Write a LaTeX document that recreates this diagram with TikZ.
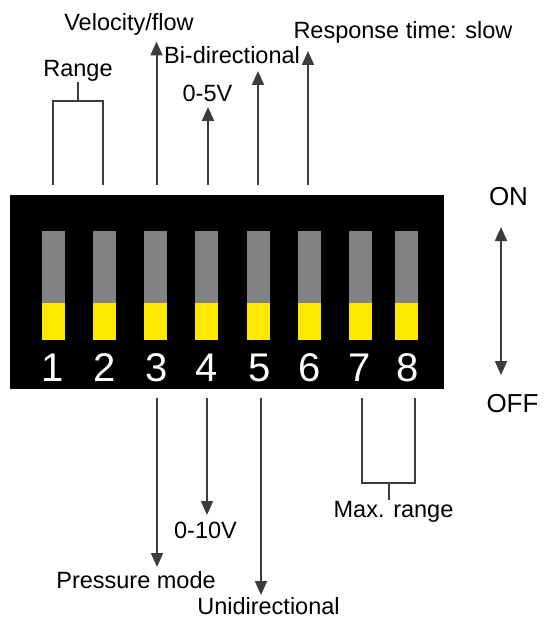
\documentclass[tikz,border=0pt]{standalone}
\usepackage{fontspec}
\setmainfont{Liberation Sans}
\usetikzlibrary{arrows.meta}
\definecolor{swgray}{HTML}{828282}
\definecolor{swyellow}{HTML}{FFE900}
\definecolor{arrowgray}{HTML}{3C3C3C}
\begin{document}
\begin{tikzpicture}[x=1pt,y=-1pt,
  lbl/.style={font=\fontsize{23.5}{24}\selectfont, inner sep=0pt, anchor=base},
  onoff/.style={font=\fontsize{26}{26}\selectfont, inner sep=0pt, anchor=base},
  num/.style={font=\fontsize{40}{40}\selectfont, text=white, inner sep=0pt, anchor=base},
  conn/.style={line width=2pt, draw=arrowgray},
  arr/.style={conn, -{Triangle[length=14pt,width=12pt]}},
  dblarr/.style={conn, {Triangle[length=14pt,width=12pt]}-{Triangle[length=14pt,width=12pt]}},
  swtop/.style={fill=swgray, inner sep=0pt, minimum width=23pt, minimum height=72pt},
  swbot/.style={fill=swyellow, inner sep=0pt, minimum width=23pt, minimum height=37pt},
]
\useasboundingbox (0,0) rectangle (543,620);
% switch body
\node[fill=black, inner sep=0pt, minimum width=434pt, minimum height=194pt] (body) at (227,292) {};
% switches
\foreach \i/\x/\nx in {1/53/53,2/104.5/105,3/155.5/157,4/206.5/207,5/258/260,6/309.5/310,7/360.5/360,8/406.5/408}{
  \node[swtop] (t\i) at (\x,267) {};
  \node[swbot] (y\i) at (\x,321.5) {};
  \node[num] (n\i) at (\nx,381) {\i};
}
% labels
\node[lbl] (range) at (78,77) {Range};
\node[lbl] (velo) at (129,30.5) {Velocity/flow};
\node[lbl] (bidir) at (232,64) {Bi-directional};
\node[lbl] (v05) at (207.5,102) {0-5V};
\node[lbl] (resp) at (403,39) {Response time: slow};
\node[onoff] (on) at (508.5,205) {ON};
\node[onoff] (off) at (512.5,412) {OFF};
\node[lbl] (maxr) at (393.5,517) {Max. range};
\node[lbl] (v010) at (205.5,538) {0-10V};
\node[lbl] (press) at (136,588) {Pressure mode};
\node[lbl] (unidir) at (268.5,614) {Unidirectional};
% top connectors
\coordinate (a1) at (53,185);
\coordinate (a2) at (103,185);
\coordinate (a3) at (156.5,185);
\coordinate (a4) at (208,185);
\coordinate (a5) at (258,185);
\coordinate (a6) at (308,185);
\coordinate (tip3) at (156.5,41.5);
\coordinate (tip4) at (208,107);
\coordinate (tip5) at (258,71);
\coordinate (tip6) at (308,51);
\coordinate (rk) at (78,82);
\coordinate (rj) at (78,101);
\draw[conn] (a1) |- (rj) -| (a2);
\draw[conn] (rj) -- (rk);
\draw[arr] (a3) -- (tip3);
\draw[arr] (a4) -- (tip4);
\draw[arr] (a5) -- (tip5);
\draw[arr] (a6) -- (tip6);
% bottom connectors
\coordinate (b3) at (157,398);
\coordinate (b4) at (207,398);
\coordinate (b5) at (261,398);
\coordinate (b7) at (362,398);
\coordinate (b8) at (415,398);
\coordinate (btip3) at (157,567);
\coordinate (btip4) at (207,515);
\coordinate (btip5) at (261,595);
\coordinate (mk) at (389,500);
\coordinate (mj) at (389,483);
\draw[conn] (b7) |- (mj) -| (b8);
\draw[conn] (mj) -- (mk);
\draw[arr] (b3) -- (btip3);
\draw[arr] (b4) -- (btip4);
\draw[arr] (b5) -- (btip5);
% ON/OFF arrow
\coordinate (onoffT) at (501,227);
\coordinate (onoffB) at (501,375);
\draw[dblarr] (onoffT) -- (onoffB);
\end{tikzpicture}
\end{document}
